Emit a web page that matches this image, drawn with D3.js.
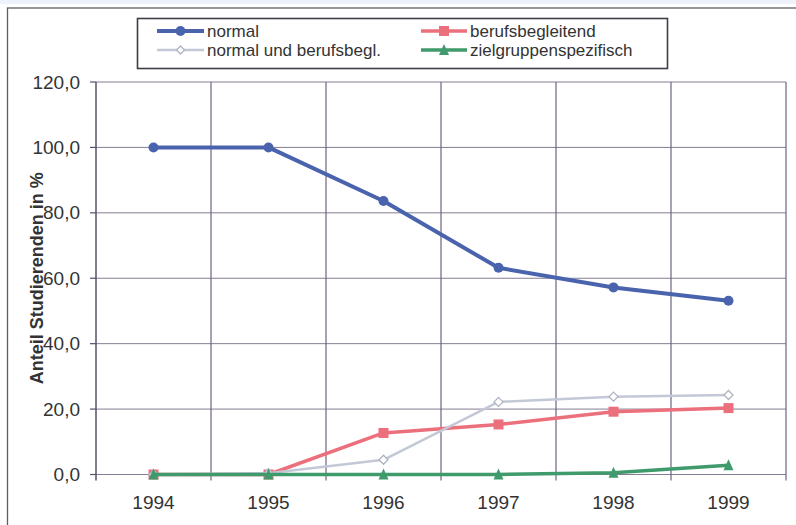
<!DOCTYPE html>
<html>
<head>
<meta charset="utf-8">
<script src="https://cdn.jsdelivr.net/npm/d3@7/dist/d3.min.js"></script>
<style>
  html, body { margin: 0; padding: 0; background: #fff; }
  svg { display: block; }
  text { font-family: "Liberation Sans", Arial, sans-serif; fill: #333; }
</style>
</head>
<body>
<svg id="chart" width="796" height="525"></svg>
<script>
// Share of students by study mode, 1994–1999
const years = ["1994", "1995", "1996", "1997", "1998", "1999"];
const normal = [100, 100, 83.6, 63.2, 57.2, 53.1];
const berufsbegleitend = [0, 0, 12.7, 15.3, 19.2, 20.3];
const normalUndBerufsbegl = [0, 0.4, 4.5, 22.2, 23.8, 24.3];
const zielgruppenspezifisch = [0, 0, 0, 0, 0.5, 2.8];
const yTicks = [0, 20, 40, 60, 80, 100, 120];
const yTitle = "Anteil Studierenden in %";

const series = [
  { name: "normal", values: normal, color: "#4a63ad", width: 4, marker: "circle" },
  { name: "berufsbegleitend", values: berufsbegleitend, color: "#ec6f7c", width: 3.5, marker: "square" },
  { name: "normal  und berufsbegl.", values: normalUndBerufsbegl, color: "#c3c8d6", width: 2.5, marker: "diamond" },
  { name: "zielgruppenspezifisch", values: zielgruppenspezifisch, color: "#3f9a6c", width: 3.5, marker: "triangle" }
];

const svg = d3.select("#chart");
const plot = { left: 96, right: 786, top: 82, bottom: 474.5 };

// Outer frame
svg.append("rect").attr("x", 0).attr("y", 0).attr("width", 796).attr("height", 4).attr("fill", "#eef2fa");
svg.append("rect")
  .attr("x", 7.5).attr("y", 8).attr("width", 820).attr("height", 540)
  .attr("fill", "none").attr("stroke", "#5e5e66").attr("stroke-width", 1.3);

const x = d3.scaleBand().domain(years).range([plot.left, plot.right]).padding(0);
const y = d3.scaleLinear().domain([0, 120]).range([plot.bottom, plot.top]);
const cx = d => x(d) + x.bandwidth() / 2;

const grid = svg.append("g");
// horizontal gridlines
grid.selectAll("line.h").data(yTicks).join("line")
  .attr("x1", plot.left).attr("x2", plot.right)
  .attr("y1", d => y(d)).attr("y2", d => y(d))
  .attr("stroke", "#867d94").attr("stroke-width", 1);
// vertical gridlines at category boundaries
const bounds = years.slice(1).map(d => x(d)).concat([plot.right]);
grid.selectAll("line.v").data(bounds).join("line")
  .attr("x1", d => d).attr("x2", d => d)
  .attr("y1", plot.top).attr("y2", plot.bottom + 6)
  .attr("stroke", "#6e6380").attr("stroke-width", 1.2);
// y axis line and ticks
grid.append("line").attr("x1", plot.left).attr("x2", plot.left)
  .attr("y1", plot.top).attr("y2", plot.bottom + 6)
  .attr("stroke", "#5a4f6a").attr("stroke-width", 1.5);
grid.selectAll("line.yt").data(yTicks).join("line")
  .attr("x1", plot.left - 6).attr("x2", plot.left)
  .attr("y1", d => y(d)).attr("y2", d => y(d))
  .attr("stroke", "#5a4f6a").attr("stroke-width", 1.2);

// y tick labels
const fmt = v => d3.format(".1f")(v).replace(".", ",");
svg.append("g").selectAll("text").data(yTicks).join("text")
  .attr("x", 80).attr("y", d => y(d)).attr("dy", "0.35em")
  .attr("text-anchor", "end").attr("font-size", 19)
  .text(fmt);

// x tick labels
svg.append("g").selectAll("text").data(years).join("text")
  .attr("x", d => cx(d)).attr("y", 509)
  .attr("text-anchor", "middle").attr("font-size", 19)
  .text(d => d);

// y axis title
svg.append("text")
  .attr("transform", `translate(43,${(plot.top + plot.bottom) / 2}) rotate(-90)`)
  .attr("text-anchor", "middle").attr("font-size", 18).attr("font-weight", "bold")
  .text(yTitle);

// markers
function drawMarker(g, type, color, px, py, size) {
  if (type === "circle") {
    g.append("circle").attr("cx", px).attr("cy", py).attr("r", size / 2).attr("fill", color);
  } else if (type === "square") {
    g.append("rect").attr("x", px - size / 2).attr("y", py - size / 2)
      .attr("width", size).attr("height", size).attr("fill", color);
  } else if (type === "triangle") {
    const s = size;
    g.append("path").attr("d", `M${px},${py - s / 2 - 1}L${px + s / 2},${py + s / 2}L${px - s / 2},${py + s / 2}Z`)
      .attr("fill", color);
  } else if (type === "diamond") {
    const s = size / 2;
    g.append("path").attr("d", `M${px},${py - s}L${px + s},${py}L${px},${py + s}L${px - s},${py}Z`)
      .attr("fill", "#fff").attr("stroke", "#aeb3c2").attr("stroke-width", 1.3);
  }
}

const line = d3.line().x((d, i) => cx(years[i])).y(d => y(d));
series.forEach(s => {
  const g = svg.append("g");
  g.append("path").datum(s.values)
    .attr("d", line).attr("fill", "none")
    .attr("stroke", s.color).attr("stroke-width", s.width)
    .attr("stroke-linejoin", "round");
  s.values.forEach((v, i) => {
    const size = s.marker === "circle" ? 10 : s.marker === "diamond" ? 9 : 10;
    drawMarker(g, s.marker, s.marker === "diamond" ? s.color : s.color, cx(years[i]), y(v), size);
  });
});

// legend
const lg = svg.append("g");
lg.append("rect").attr("x", 137.5).attr("y", 18.5).attr("width", 530).attr("height", 50)
  .attr("fill", "#fff").attr("stroke", "#3e3e48").attr("stroke-width", 1.6);
const legendPos = [
  { x0: 157, x1: 204, tx: 207, y: 31 },
  { x0: 421, x1: 467, tx: 470, y: 31 },
  { x0: 157, x1: 204, tx: 207, y: 50 },
  { x0: 421, x1: 467, tx: 470, y: 50 }
];
series.forEach((s, i) => {
  const p = legendPos[i];
  lg.append("line").attr("x1", p.x0).attr("x2", p.x1).attr("y1", p.y).attr("y2", p.y)
    .attr("stroke", s.color).attr("stroke-width", s.width);
  drawMarker(lg, s.marker, s.color, (p.x0 + p.x1) / 2, p.y, s.marker === "diamond" ? 8 : 10);
  lg.append("text").attr("x", p.tx).attr("y", p.y).attr("dy", "0.35em")
    .attr("font-size", 17).text(s.name);
});
</script>
</body>
</html>
